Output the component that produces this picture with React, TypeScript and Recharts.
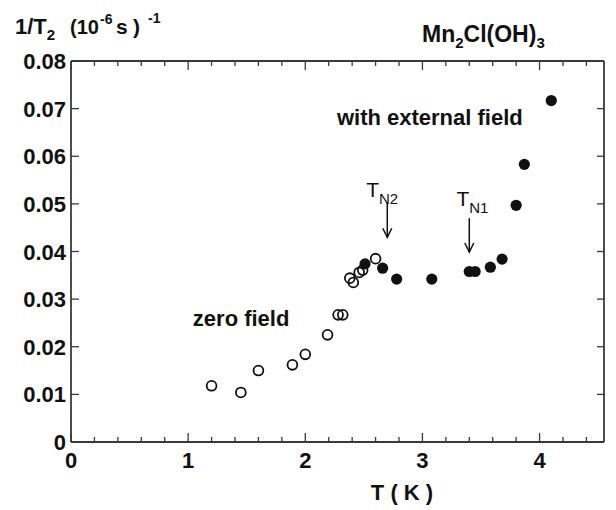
import React from 'react';
import { ScatterChart, Scatter, XAxis, YAxis, ReferenceLine, ReferenceDot } from 'recharts';

// ---- data ----
const zeroFieldT = [1.20, 1.45, 1.60, 1.89, 2.00, 2.19, 2.28, 2.32, 2.38, 2.41, 2.46, 2.49, 2.60];
const zeroFieldRate = [0.0118, 0.0104, 0.0150, 0.0162, 0.0184, 0.0225, 0.0267, 0.0267, 0.0344, 0.0335, 0.0356, 0.0361, 0.0385];
const extFieldT = [2.51, 2.66, 2.78, 3.08, 3.40, 3.45, 3.58, 3.68, 3.80, 3.87, 4.10];
const extFieldRate = [0.0374, 0.0365, 0.0342, 0.0342, 0.0358, 0.0358, 0.0367, 0.0384, 0.0497, 0.0583, 0.0717];

const xTicks = [0, 0.2, 0.4, 0.6, 0.8, 1, 1.2, 1.4, 1.6, 1.8, 2, 2.2, 2.4, 2.6, 2.8, 3, 3.2, 3.4, 3.6, 3.8, 4, 4.2, 4.4];
const yTicks = [0, 0.01, 0.02, 0.03, 0.04, 0.05, 0.06, 0.07, 0.08];
const yTickLabels = ['0', '0.01', '0.02', '0.03', '0.04', '0.05', '0.06', '0.07', '0.08'];

const xDomain: [number, number] = [0, 4.55];
const yDomain: [number, number] = [0, 0.08];

// transition markers (temperature, arrow top, arrow tip) in data units
const transitionNames = ['N2', 'N1'];
const transitionT = [2.70, 3.40];
const arrowTop = [0.0502, 0.047];
const arrowTip = [0.0430, 0.0399];
const labelT = [2.52, 3.29];
const labelRate = [0.0514, 0.0496];

const zeroData = zeroFieldT.map((t, i) => ({ x: t, y: zeroFieldRate[i] }));
const extData = extFieldT.map((t, i) => ({ x: t, y: extFieldRate[i] }));

const INK = '#111';
const AXIS = '#3a3a3a';
const FONT = '"Liberation Sans", Arial, Helvetica, sans-serif';

const isMajor = (v: number) => Math.abs(v - Math.round(v)) < 1e-6;

const BottomTick = (props: any) => {
  const { x, y, payload } = props;
  const v = payload.value;
  const major = isMajor(v);
  return (
    <g>
      <line x1={x} x2={x} y1={y} y2={y - (major ? 9 : 5)} stroke={AXIS} strokeWidth={1.3} />
      {major && (
        <text x={x} y={y + 26} textAnchor="middle" fontFamily={FONT} fontWeight="bold" fontSize={22} fill={INK}>
          {String(Math.round(v))}
        </text>
      )}
    </g>
  );
};

const TopTick = (props: any) => {
  const { x, y, payload } = props;
  const major = isMajor(payload.value);
  return <line x1={x} x2={x} y1={y} y2={y + (major ? 9 : 5)} stroke={AXIS} strokeWidth={1.3} />;
};

const LeftTick = (props: any) => {
  const { x, y, payload, index } = props;
  return (
    <g>
      <line x1={x} x2={x + 8} y1={y} y2={y} stroke={AXIS} strokeWidth={1.3} />
      <text x={x - 5} y={y + 8} textAnchor="end" fontFamily={FONT} fontWeight="bold" fontSize={22} fill={INK}>
        {yTickLabels[index] ?? String(payload.value)}
      </text>
    </g>
  );
};

const RightTick = (props: any) => {
  const { x, y } = props;
  return <line x1={x} x2={x - 7} y1={y} y2={y} stroke={AXIS} strokeWidth={1.3} />;
};

const OpenCircle = (props: any) => (
  <circle cx={props.cx} cy={props.cy} r={4.9} fill="none" stroke={INK} strokeWidth={1.8} />
);
const FilledCircle = (props: any) => (
  <circle cx={props.cx} cy={props.cy} r={5.6} fill={INK} stroke="none" />
);
const NoShape = () => <g />;

const Arrow = (props: any) => {
  const { x1, y1, x2, y2 } = props;
  return (
    <g>
      <line x1={x1} y1={y1} x2={x2} y2={y2} stroke={INK} strokeWidth={1.5} />
      <path d={`M${x2 - 4.5},${y2 - 9} L${x2},${y2} L${x2 + 4.5},${y2 - 9}`} fill="none" stroke={INK} strokeWidth={1.5} />
    </g>
  );
};

export default function App() {
  return (
    <div style={{ position: 'absolute', left: 0, top: 0, width: 616, height: 510, background: '#fff' }}>
      <ScatterChart width={616} height={510} margin={{ top: 60, right: 11, bottom: 0, left: 0 }}>
        <XAxis
          xAxisId="b"
          type="number"
          dataKey="x"
          domain={xDomain}
          ticks={xTicks}
          interval={0}
          allowDataOverflow
          height={68}
          tickLine={false}
          tickSize={0}
          tickMargin={0}
          axisLine={{ stroke: AXIS, strokeWidth: 1.8 }}
          tick={<BottomTick />}
        />
        <XAxis
          xAxisId="t"
          orientation="top"
          type="number"
          dataKey="x"
          domain={xDomain}
          ticks={xTicks}
          interval={0}
          allowDataOverflow
          height={1}
          tickLine={false}
          tickSize={0}
          tickMargin={0}
          axisLine={{ stroke: AXIS, strokeWidth: 1.8 }}
          tick={<TopTick />}
        />
        <YAxis
          yAxisId="l"
          type="number"
          dataKey="y"
          domain={yDomain}
          ticks={yTicks}
          interval={0}
          allowDataOverflow
          width={71}
          tickLine={false}
          tickSize={0}
          tickMargin={0}
          axisLine={{ stroke: AXIS, strokeWidth: 1.8 }}
          tick={<LeftTick />}
        />
        <YAxis
          yAxisId="r"
          orientation="right"
          type="number"
          dataKey="y"
          domain={yDomain}
          ticks={yTicks}
          interval={0}
          allowDataOverflow
          width={1}
          tickLine={false}
          tickSize={0}
          tickMargin={0}
          axisLine={{ stroke: AXIS, strokeWidth: 1.8 }}
          tick={<RightTick />}
        />
        <Scatter xAxisId="t" yAxisId="r" data={extData} shape={<NoShape />} isAnimationActive={false} legendType="none" />
        <Scatter xAxisId="b" yAxisId="l" data={zeroData} shape={<OpenCircle />} isAnimationActive={false} />
        <Scatter xAxisId="b" yAxisId="l" data={extData} shape={<FilledCircle />} isAnimationActive={false} />
        {transitionNames.map((n, i) => (
          <ReferenceLine
            key={'arr' + n}
            xAxisId="b"
            yAxisId="l"
            segment={[{ x: transitionT[i], y: arrowTop[i] }, { x: transitionT[i], y: arrowTip[i] }]}
            shape={(p: any) => <Arrow {...p} />}
          />
        ))}
        {transitionNames.map((n, i) => (
          <ReferenceDot
            key={'lab' + n}
            xAxisId="b"
            yAxisId="l"
            x={labelT[i]}
            y={labelRate[i]}
            r={0}
            shape={(p: any) => (
              <text x={p.cx} y={p.cy} fontFamily={FONT} fontSize={21} fill={INK}>
                T
                <tspan fontSize={15} dy={7}>{n}</tspan>
              </text>
            )}
          />
        ))}
        <ReferenceDot
          xAxisId="b"
          yAxisId="l"
          x={1.04}
          y={0.0244}
          r={0}
          shape={(p: any) => (
            <text x={p.cx} y={p.cy} fontFamily={FONT} fontWeight="bold" fontSize={22} fill={INK}>zero field</text>
          )}
        />
        <ReferenceDot
          xAxisId="b"
          yAxisId="l"
          x={2.27}
          y={0.0666}
          r={0}
          shape={(p: any) => (
            <text x={p.cx} y={p.cy} fontFamily={FONT} fontWeight="bold" fontSize={22} fill={INK}>with external field</text>
          )}
        />
      </ScatterChart>
      <svg width={616} height={510} style={{ position: 'absolute', left: 0, top: 0, pointerEvents: 'none' }}>
        <text x={15} y={34} fontFamily={FONT} fontWeight="bold" fontSize={22} fill={INK}>
          1/T
          <tspan fontSize={15} dy={6}>2</tspan>
          <tspan x={70} dy={-6} fontSize={20}>(10</tspan>
          <tspan x={100} fontSize={14} dy={-10}>-6</tspan>
          <tspan x={116} dy={10} fontSize={21}>s</tspan>
          <tspan x={133} fontSize={21}>)</tspan>
          <tspan x={148} fontSize={14} dy={-11}>-1</tspan>
        </text>
        <text x={422} y={42} fontFamily={FONT} fontWeight="bold" fontSize={23} fill={INK}>
          Mn
          <tspan fontSize={15} dy={6}>2</tspan>
          <tspan dy={-6}>Cl(OH)</tspan>
          <tspan fontSize={15} dy={6}>3</tspan>
        </text>
        <text x={402} y={500} textAnchor="middle" fontFamily={FONT} fontWeight="bold" fontSize={22} fill={INK}>
          T ( K )
        </text>
      </svg>
    </div>
  );
}
